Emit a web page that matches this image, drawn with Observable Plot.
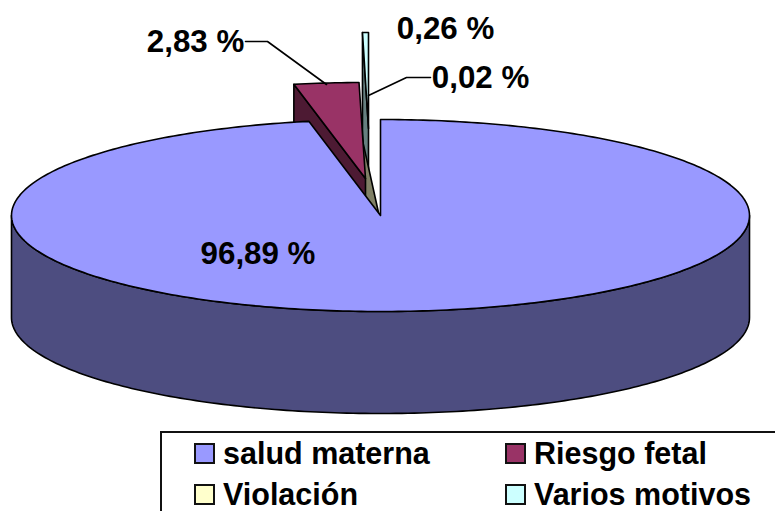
<!DOCTYPE html>
<html><head><meta charset="utf-8">
<script src="https://cdn.jsdelivr.net/npm/d3@7"></script>
<script src="https://cdn.jsdelivr.net/npm/@observablehq/plot@0.6"></script>
<style>
html,body{margin:0;padding:0;background:#fff;overflow:hidden;width:775px;height:511px}
#chart svg{display:block}
#legend{position:absolute;left:160px;top:431px;width:640px;height:100px;border:2px solid #111;box-sizing:border-box;font:bold 30.5px "Liberation Sans",Arial,sans-serif;color:#000}
#legend .s{position:absolute;width:17px;height:17px;border:2px solid #111;box-sizing:content-box}
#legend .t{position:absolute;line-height:34px;white-space:nowrap}
</style></head><body>
<div id="chart"></div><div id="legend"></div>
<script>
const categories=["salud materna","Riesgo fetal","Violación","Varios motivos"];
const values=[96.89,2.83,0.02,0.26];
const labels=["96,89 %","2,83 %","0,02 %","0,26 %"];
const faceColors=["#9999FF","#993366","#FFFFCC","#CCFFFF"];
const wallColors=["#4D4D80","#4D1A33","#808066","#668080"];
const W=775,H=431;
const cx=380,cy=215,rx=369,ry=96,depth=102;
// displacement of each exploded slice's apex from the pie centre
const explodeX=[0,-15,-2,-12];
const explodeY=[0,-37,-3,-87];
// Clockwise from 12 o'clock
const total=d3.sum(values);
let acc=0;
const slices=values.map((v,i)=>{const a0=acc/total*2*Math.PI;acc+=v;const a1=acc/total*2*Math.PI;
  return {i,a0,a1,ox:cx+explodeX[i],oy:cy+explodeY[i]};});
const pt=(s,a,dz=0)=>[s.ox+rx*Math.sin(a),s.oy-ry*Math.cos(a)+dz];
const arc=(s,a0,a1,dz=0)=>{const n=Math.max(2,Math.ceil(Math.abs(a1-a0)*60));
  return d3.range(n+1).map(k=>pt(s,a0+(a1-a0)*k/n,dz));};
const close=p=>[...p,p[0]];
const face=s=>close([[s.ox,s.oy],...arc(s,s.a0,s.a1)]);
const wall=(s,a)=>close([[s.ox,s.oy],pt(s,a),pt(s,a,depth),[s.ox,s.oy+depth]]);
const poly=(p,fill)=>Plot.line(p,{x:d=>d[0],y:d=>d[1],fill,stroke:"#000",strokeWidth:1.6,strokeLinejoin:"round",curve:"linear"});
const [main,risk,viol,varios]=slices;
// front rim of the main slice: 90deg to 270deg clockwise
const rim=close([...arc(main,Math.PI/2,1.5*Math.PI),...arc(main,1.5*Math.PI,Math.PI/2,depth)]);
const leaders=[
 {l:[[245,41],[267,41],[326,84]]},
 {l:[[430,77],[406,77],[368,95]]}
];
const textPos=[[257.5,253],[195,41],[480,77],[445,28]];
const marks=[
 poly(wall(varios,varios.a0),wallColors[3]),
 poly(wall(viol,viol.a0-0.04),wallColors[2]),
 poly(face(varios),faceColors[3]),
 poly(wall(risk,risk.a0),wallColors[1]),
 poly(face(risk),faceColors[1]),
 poly(rim,wallColors[0]),
 poly(face(main),faceColors[0]),
 ...leaders.map(d=>Plot.line(d.l,{x:p=>p[0],y:p=>p[1],stroke:"#000",strokeWidth:1.6})),
 Plot.text(labels,{x:(d,i)=>textPos[i][0],y:(d,i)=>textPos[i][1],text:d=>d,fontSize:31.3,fontWeight:"bold",fontFamily:"Liberation Sans",fill:"#000",textAnchor:"middle",lineAnchor:"middle"})
];
const plot=Plot.plot({width:W,height:H,margin:0,style:{background:"transparent",overflow:"visible"},
  x:{domain:[0,W],range:[0,W],axis:null},y:{domain:[0,H],range:[0,H],axis:null},marks});
document.getElementById("chart").appendChild(plot);
const lg=document.getElementById("legend");
const lx=[32,343],ly=[3,44];
categories.forEach((c,i)=>{const col=i%2,row=i>>1;
  const s=document.createElement("div");s.className="s";s.style.cssText=`left:${lx[col]}px;top:${ly[row]+7}px;background:${faceColors[i]}`;lg.appendChild(s);
  const t=document.createElement("div");t.className="t";t.textContent=c;t.style.cssText=`left:${lx[col]+29}px;top:${ly[row]}px`;lg.appendChild(t);});
</script></body></html>
